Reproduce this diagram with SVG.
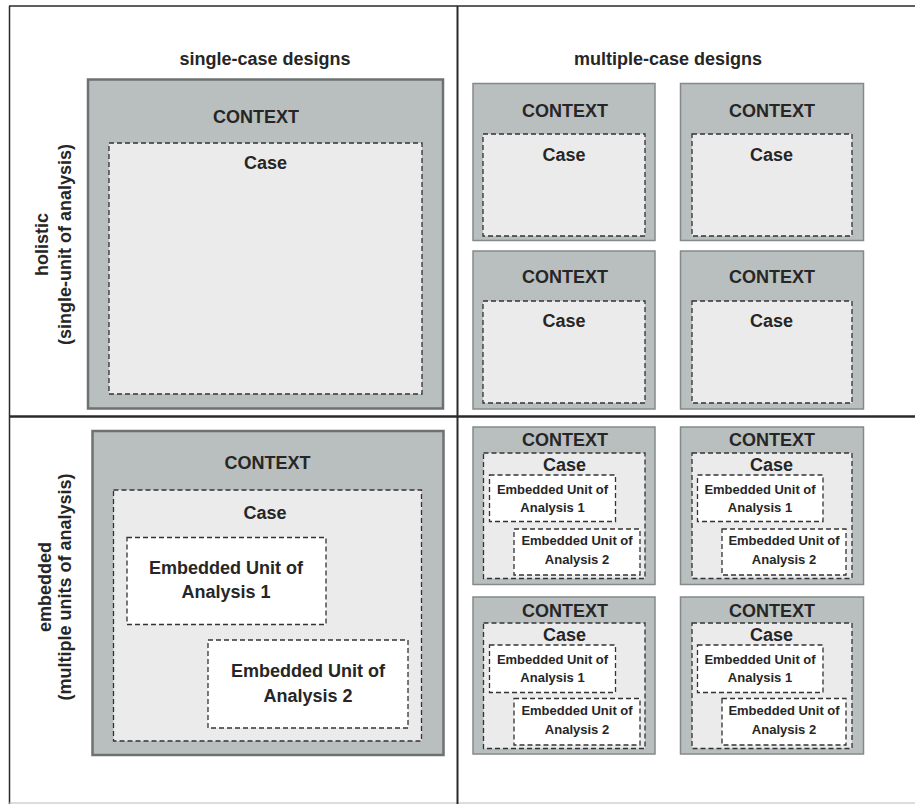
<svg xmlns="http://www.w3.org/2000/svg" width="915" height="804" viewBox="0 0 915 804">
<style>
text{font-family:"Liberation Sans",Arial,sans-serif;font-weight:bold;fill:#262626;text-anchor:middle}
.t18{font-size:18px}
.t13{font-size:13px}
.ctxL{fill:#b9bebe;stroke:#6e7171;stroke-width:2.5}
.ctxS{fill:#b9bebe;stroke:#858989;stroke-width:1.5}
.case{fill:#ebebeb;stroke:#333;stroke-width:1.3;stroke-dasharray:5 3}
.emb{fill:#fff;stroke:#333;stroke-width:1.3;stroke-dasharray:5 3}
.frame{stroke:#2a2a2a;fill:none}
</style>
<rect width="915" height="804" fill="#fff"/>
<g id="frame">
<line class="frame" x1="9" y1="6" x2="915" y2="6" stroke-width="1.5"/>
<line class="frame" x1="9.5" y1="6" x2="9.5" y2="804" stroke-width="1.5"/>
<line x1="9" y1="803" x2="915" y2="803" stroke="#bbb" stroke-width="1"/>
<line class="frame" x1="9" y1="416.5" x2="915" y2="416.5" stroke-width="2.5"/>
<line class="frame" x1="457.5" y1="6" x2="457.5" y2="804" stroke-width="2"/>
</g>
<g id="labels">
<text class="t18" x="265" y="65">single-case designs</text>
<text class="t18" x="668" y="65">multiple-case designs</text>
<text class="t18" transform="translate(48,244.5) rotate(-90)">holistic</text>
<text class="t18" transform="translate(71,244.5) rotate(-90)">(single-unit of analysis)</text>
<text class="t18" transform="translate(51,587) rotate(-90)">embedded</text>
<text class="t18" transform="translate(71,587) rotate(-90)">(multiple units of analysis)</text>
</g>
<g id="holistic-single">
<rect class="ctxL" x="88" y="79.5" width="355" height="329"/>
<text class="t18" x="256" y="123">CONTEXT</text>
<rect class="case" x="109" y="143" width="313" height="251"/>
<text class="t18" x="265.5" y="169">Case</text>
</g>
<g id="holistic-multi-1">
<rect class="ctxS" x="473" y="83.5" width="182" height="157"/>
<text class="t18" x="565" y="116.5">CONTEXT</text>
<rect class="case" x="483" y="134" width="162" height="102"/>
<text class="t18" x="564" y="160.5">Case</text>
</g>
<g id="holistic-multi-2">
<rect class="ctxS" x="680.5" y="83.5" width="183" height="157"/>
<text class="t18" x="772" y="116.5">CONTEXT</text>
<rect class="case" x="692" y="134" width="160" height="102"/>
<text class="t18" x="771.5" y="160.5">Case</text>
</g>
<g id="holistic-multi-3">
<rect class="ctxS" x="473" y="251" width="182" height="158"/>
<text class="t18" x="565" y="282.5">CONTEXT</text>
<rect class="case" x="483" y="301" width="162" height="102"/>
<text class="t18" x="564" y="327">Case</text>
</g>
<g id="holistic-multi-4">
<rect class="ctxS" x="680.5" y="251" width="183" height="158"/>
<text class="t18" x="772" y="282.5">CONTEXT</text>
<rect class="case" x="692" y="301" width="160" height="102"/>
<text class="t18" x="771.5" y="327">Case</text>
</g>
<g id="embedded-single">
<rect class="ctxL" x="92.5" y="431" width="351" height="324"/>
<text class="t18" x="267.5" y="469">CONTEXT</text>
<rect class="case" x="113.5" y="490" width="308" height="251"/>
<text class="t18" x="265" y="519">Case</text>
<rect class="emb" x="127" y="537.5" width="199" height="87"/>
<text class="t18" x="226" y="574">Embedded Unit of</text>
<text class="t18" x="226" y="597.5">Analysis 1</text>
<rect class="emb" x="208" y="640" width="200" height="88"/>
<text class="t18" x="308" y="676.5">Embedded Unit of</text>
<text class="t18" x="308" y="701.5">Analysis 2</text>
</g>
<g id="embedded-multi-1">
<rect class="ctxS" x="473" y="427" width="182" height="157.5"/>
<text class="t18" x="565" y="446">CONTEXT</text>
<rect class="case" x="483.5" y="453" width="161.5" height="125.5"/>
<text class="t18" x="564.5" y="471">Case</text>
<rect class="emb" x="489.5" y="475" width="126" height="46.5"/>
<text class="t13" x="552.5" y="493.5">Embedded Unit of</text>
<text class="t13" x="552.5" y="511.5">Analysis 1</text>
<rect class="emb" x="514" y="529" width="126" height="46"/>
<text class="t13" x="577" y="545">Embedded Unit of</text>
<text class="t13" x="577" y="564">Analysis 2</text>
</g>
<g id="embedded-multi-2">
<rect class="ctxS" x="680.5" y="427" width="183" height="157.5"/>
<text class="t18" x="772" y="446">CONTEXT</text>
<rect class="case" x="692" y="453" width="160" height="125.5"/>
<text class="t18" x="771.5" y="471">Case</text>
<rect class="emb" x="697.5" y="475" width="125.5" height="46.5"/>
<text class="t13" x="760" y="493.5">Embedded Unit of</text>
<text class="t13" x="760" y="511.5">Analysis 1</text>
<rect class="emb" x="722" y="529" width="124" height="46"/>
<text class="t13" x="784" y="545">Embedded Unit of</text>
<text class="t13" x="784" y="564">Analysis 2</text>
</g>
<g id="embedded-multi-3">
<rect class="ctxS" x="473" y="597" width="182" height="157"/>
<text class="t18" x="565" y="617">CONTEXT</text>
<rect class="case" x="483.5" y="623" width="161.5" height="125.5"/>
<text class="t18" x="564.5" y="641">Case</text>
<rect class="emb" x="489.5" y="645" width="126" height="47.5"/>
<text class="t13" x="552.5" y="663.5">Embedded Unit of</text>
<text class="t13" x="552.5" y="682">Analysis 1</text>
<rect class="emb" x="514" y="698.5" width="126" height="46.5"/>
<text class="t13" x="577" y="715">Embedded Unit of</text>
<text class="t13" x="577" y="734">Analysis 2</text>
</g>
<g id="embedded-multi-4">
<rect class="ctxS" x="680.5" y="597" width="183" height="157"/>
<text class="t18" x="772" y="617">CONTEXT</text>
<rect class="case" x="692" y="623" width="160" height="125.5"/>
<text class="t18" x="771.5" y="641">Case</text>
<rect class="emb" x="697.5" y="645" width="125.5" height="47.5"/>
<text class="t13" x="760" y="663.5">Embedded Unit of</text>
<text class="t13" x="760" y="682">Analysis 1</text>
<rect class="emb" x="722" y="698.5" width="124" height="46.5"/>
<text class="t13" x="784" y="715">Embedded Unit of</text>
<text class="t13" x="784" y="734">Analysis 2</text>
</g>
</svg>
